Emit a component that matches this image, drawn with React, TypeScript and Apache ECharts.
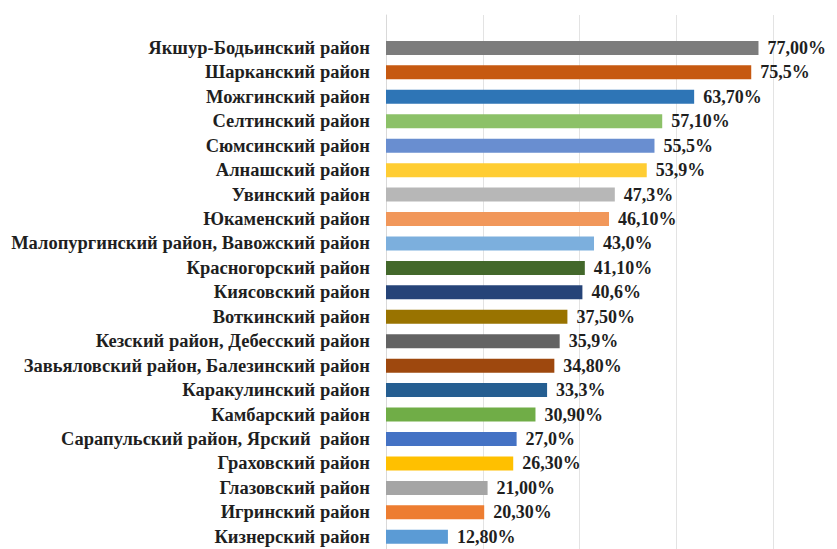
import React, { useEffect, useRef } from "react";
import * as echarts from "echarts";

const categories: string[] = [
  "Якшур-Бодьинский район",
  "Шарканский район",
  "Можгинский район",
  "Селтинский район",
  "Сюмсинский район",
  "Алнашский район",
  "Увинский район",
  "Юкаменский район",
  "Малопургинский район, Вавожский район",
  "Красногорский район",
  "Киясовский район",
  "Воткинский район",
  "Кезский район, Дебесский район",
  "Завьяловский район, Балезинский район",
  "Каракулинский район",
  "Камбарский район",
  "Сарапульский район, Ярский  район",
  "Граховский район",
  "Глазовский район",
  "Игринский район",
  "Кизнерский район",
];

const values: number[] = [
  77.0, 75.5, 63.7, 57.1, 55.5, 53.9, 47.3, 46.1, 43.0, 41.1, 40.6, 37.5, 35.9,
  34.8, 33.3, 30.9, 27.0, 26.3, 21.0, 20.3, 12.8,
];

const valueLabels: string[] = [
  "77,00%", "75,5%", "63,70%", "57,10%", "55,5%", "53,9%", "47,3%", "46,10%",
  "43,0%", "41,10%", "40,6%", "37,50%", "35,9%", "34,80%", "33,3%", "30,90%",
  "27,0%", "26,30%", "21,00%", "20,30%", "12,80%",
];

const barColors: string[] = [
  "#7C7C7C", "#C65911", "#2E75B6", "#8CC168", "#698ED0", "#FFCD33", "#B7B7B7",
  "#F1975A", "#7CAFDD", "#43682B", "#264478", "#997300", "#636363", "#9E480E",
  "#255E91", "#70AD47", "#4472C4", "#FFC000", "#A5A5A5", "#ED7D31", "#5B9BD5",
];

const xTicks = { min: 0, max: 80, interval: 20 };

export default function App() {
  const ref = useRef<HTMLDivElement>(null);
  useEffect(() => {
    if (!ref.current) return;
    const chart = echarts.init(ref.current, undefined, { renderer: "svg" });
    const font = "Liberation Serif";
    const catTxt = {
      color: "#1f1f1f",
      fontFamily: font,
      fontWeight: "bold",
      fontSize: 18.5,
    };
    const valTxt = {
      color: "#1f1f1f",
      fontFamily: font,
      fontWeight: "bold",
      fontSize: 18,
    };
    chart.setOption({
      animation: false,
      backgroundColor: "#ffffff",
      textStyle: { fontFamily: font, fontWeight: "bold" },
      grid: [
        { left: 386, right: 64, top: 15, bottom: -10, containLabel: false },
        { left: 386, right: 64, top: 35.7, bottom: -5, containLabel: false },
      ],
      xAxis: [
        {
          gridIndex: 0,
          type: "value",
          ...xTicks,
          axisLabel: { show: false },
          axisLine: { show: false },
          axisTick: { show: false },
          splitLine: { show: true, lineStyle: { color: "#e3e3e3", width: 1 } },
        },
        {
          gridIndex: 1,
          type: "value",
          ...xTicks,
          axisLabel: { show: false },
          axisLine: { show: false },
          axisTick: { show: false },
          splitLine: { show: false },
        },
      ],
      yAxis: [
        {
          gridIndex: 0,
          type: "value",
          show: true,
          axisLine: { show: true, lineStyle: { color: "#d9d9d9" } },
          axisLabel: { show: false },
          axisTick: { show: false },
          splitLine: { show: false },
        },
        {
          gridIndex: 1,
          type: "category",
          inverse: true,
          data: categories,
          axisLine: { show: false },
          axisTick: { show: false },
          axisLabel: {
            interval: 0,
            margin: 16,
            ...catTxt,
            formatter: (v: string) => `{c|${v}}`,
            rich: { c: { ...catTxt } },
          },
        },
      ],
      series: [
        {
          type: "bar",
          xAxisIndex: 1,
          yAxisIndex: 1,
          barWidth: 14,
          data: values.map((v, i) => ({
            value: v,
            itemStyle: { color: barColors[i] },
          })),
          label: {
            show: true,
            position: "right",
            distance: 9,
            ...valTxt,
            formatter: (p: any) => `{v|${valueLabels[p.dataIndex]}}`,
            rich: { v: { ...valTxt } },
          },
        },
      ],
    });
    return () => chart.dispose();
  }, []);
  return (
    <div
      ref={ref}
      style={{ position: "fixed", left: 0, top: 0, width: 837, height: 549 }}
    />
  );
}
